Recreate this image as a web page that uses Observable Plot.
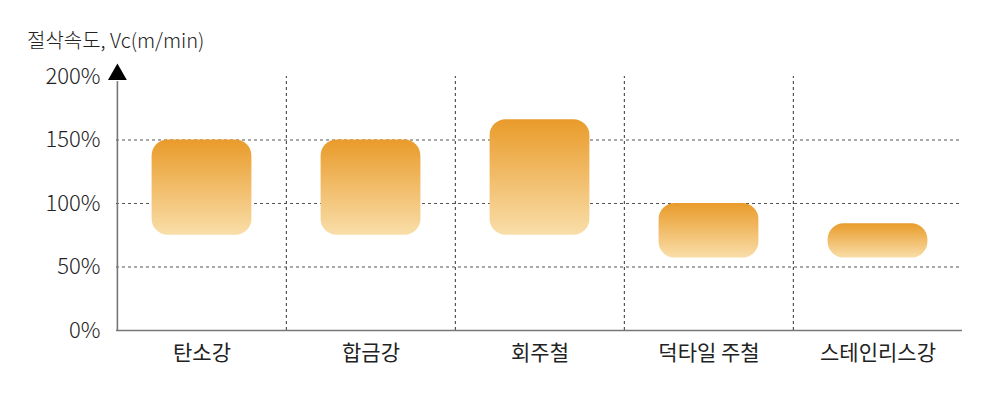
<!DOCTYPE html>
<html><head><meta charset="utf-8">
<script src="https://cdn.jsdelivr.net/npm/d3@7"></script>
<script src="https://cdn.jsdelivr.net/npm/@observablehq/plot@0.6"></script>
<style>
body{margin:0;background:#fff;}
#wrap{position:relative;width:1000px;height:393px;font-family:"Noto Sans CJK KR","Noto Sans",sans-serif;}
#title{position:absolute;left:27px;top:30px;font-size:20px;color:#222;line-height:1;font-weight:300;}
</style></head>
<body><div id="wrap"><div id="title">절삭속도, Vc(m/min)</div></div>
<script>
const categories = ["탄소강","합금강","회주철","덕타일 주철","스테인리스강"];
const lowValues  = [75, 75, 75, 57, 57];
const highValues = [150, 150, 166, 100, 84];
const yTicks = [0, 50, 100, 150, 200];
const gridY = [50, 100, 150];

const data = categories.map((c,i)=>({cat:c, lo:lowValues[i], hi:highValues[i]}));
const W = 1000, H = 393, mL = 116, mR = 38, mT = 76, mB = 63;
const bw = (W - mL - mR) / categories.length;

const defs = () => {
  const ns = "http://www.w3.org/2000/svg";
  const d = document.createElementNS(ns, "defs");
  d.innerHTML = `<linearGradient id="barGrad" x1="0" y1="0" x2="0" y2="1">
    <stop offset="0" stop-color="#E99B2A"/><stop offset="1" stop-color="#F9DEA9"/></linearGradient>`;
  return d;
};

const chart = Plot.plot({
  width: W, height: H,
  marginLeft: mL, marginRight: mR, marginTop: mT, marginBottom: mB,
  style: {fontFamily: '"Noto Sans CJK KR","Noto Sans",sans-serif', background: "#fff", fontSize: "20px"},
  x: {type: "band", domain: categories, padding: 0},
  y: {domain: [0, 200]},
  marks: [
    defs,
    Plot.ruleY(gridY, {stroke: "#555", strokeWidth: 1.2, strokeDasharray: "3,3"}),
    Plot.ruleX(categories.slice(1), {dx: -bw/2, y1: 0, y2: 200, stroke: "#555", strokeWidth: 1.2, strokeDasharray: "3,3"}),
    Plot.barY(data, {x: "cat", y1: "lo", y2: "hi", fill: "url(#barGrad)", rx: 16, insetLeft: 34.6, insetRight: 34.6}),
    Plot.ruleY([0], {stroke: "#777", strokeWidth: 1.6}),
    Plot.ruleX([categories[0]], {dx: -bw/2, y1: 0, y2: 196, stroke: "#777", strokeWidth: 1.6}),
    Plot.dot([200], {x: () => categories[0], y: d => d, dx: -bw/2, dy: -2, symbol: "triangle", r: 7, fill: "#000", stroke: "none"}),
    Plot.axisY({ticks: yTicks, tickSize: 0, tickPadding: 16, tickFormat: d => d + "%", fontSize: 22, fontWeight: 300, fill: "#222", label: null}),
    Plot.axisX({tickSize: 0, tickPadding: 15, fontSize: 21, fontWeight: 400, fill: "#222", label: null})
  ]
});
document.getElementById("wrap").appendChild(chart);
</script></body></html>
